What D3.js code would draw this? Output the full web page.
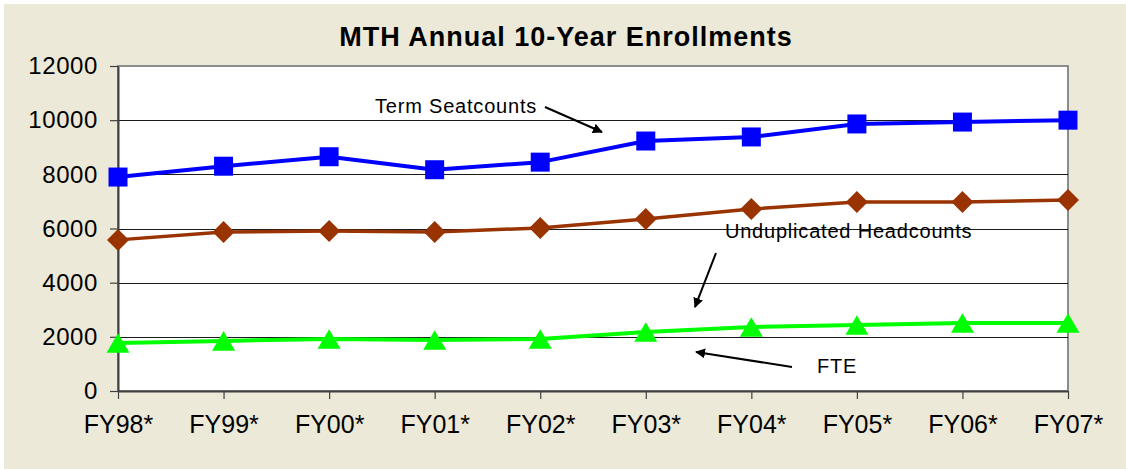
<!DOCTYPE html>
<html>
<head>
<meta charset="utf-8">
<script src="https://cdn.jsdelivr.net/npm/d3@7"></script>
<style>
  html, body { margin: 0; padding: 0; background: #fff; }
  svg { display: block; font-family: "Liberation Sans", Arial, sans-serif; }
</style>
</head>
<body>
<div id="chart"></div>
<script>
// data
const years = ['FY98*', 'FY99*', 'FY00*', 'FY01*', 'FY02*', 'FY03*', 'FY04*', 'FY05*', 'FY06*', 'FY07*'];
const seatcounts = [7900, 8300, 8650, 8170, 8450, 9230, 9380, 9860, 9930, 10000];
const headcounts = [5580, 5870, 5910, 5870, 6020, 6350, 6720, 6980, 6980, 7050];
const fte = [1770, 1850, 1920, 1880, 1920, 2180, 2360, 2440, 2510, 2510];
const yTicks = [0, 2000, 4000, 6000, 8000, 10000, 12000];

// annotations, placed in data units (category index, value)
const notes = [
    {text: 'Term Seatcounts', x: 2.435, y: 10265, from: [4.045, 10486], to: [4.585, 9563]},
    {text: 'Unduplicated Headcounts', x: 5.75, y: 5649, from: [5.665, 5095], to: [5.466, 3101]},
    {text: 'FTE', x: 6.622, y: 665, from: [6.385, 886], to: [5.476, 1440]}
];

const W = 1126, H = 469;
const margin = {top: 66, right: 58, bottom: 78, left: 118};
const width = W - margin.left - margin.right;
const height = H - margin.top - margin.bottom;

const svg = d3.select('#chart').append('svg')
    .attr('width', W)
    .attr('height', H);

svg.append('rect')
    .attr('x', 4).attr('y', 4)
    .attr('width', W - 4).attr('height', H - 4)
    .attr('fill', '#ECE9D8');

svg.append('defs').append('marker')
    .attr('id', 'arrow')
    .attr('viewBox', '0 0 10 10')
    .attr('refX', 9).attr('refY', 5)
    .attr('markerWidth', 5).attr('markerHeight', 5)
    .attr('markerUnits', 'strokeWidth')
    .attr('orient', 'auto')
    .append('path')
    .attr('d', 'M0,0L10,5L0,10z')
    .attr('fill', '#000');

const g = svg.append('g')
    .attr('transform', 'translate(' + margin.left + ',' + margin.top + ')');

const xScale = d3.scalePoint()
    .domain(years)
    .range([0, width])
    .padding(0);

const xIdx = d3.scaleLinear()
    .domain([0, years.length - 1])
    .range([0, width]);

const yScale = d3.scaleLinear()
    .domain([0, 12000])
    .range([height, 0]);

// plot area
g.append('rect')
    .attr('width', width)
    .attr('height', height)
    .attr('fill', '#fff')
    .attr('stroke', '#8c8c8c')
    .attr('stroke-width', 2);

// gridlines
g.append('g')
    .selectAll('line')
    .data(yTicks.filter(d => d > 0 && d < 12000))
    .join('line')
    .attr('x1', 0).attr('x2', width)
    .attr('y1', d => Math.round(yScale(d)) + 0.5)
    .attr('y2', d => Math.round(yScale(d)) + 0.5)
    .attr('stroke', '#1a1a1a')
    .attr('stroke-width', 1);

// axes
const yAxis = d3.axisLeft(yScale)
    .tickValues(yTicks)
    .tickFormat(d3.format('d'))
    .tickSize(8)
    .tickPadding(12)
    .tickSizeOuter(0);

const xAxis = d3.axisBottom(xScale)
    .tickSize(8)
    .tickPadding(16)
    .tickSizeOuter(0);

const yAxisGroup = g.append('g').attr('class', 'axis y-axis').call(yAxis);
const xAxisGroup = g.append('g').attr('class', 'axis x-axis')
    .attr('transform', 'translate(0,' + height + ')')
    .call(xAxis);

[yAxisGroup, xAxisGroup].forEach(ax => {
    ax.select('.domain').attr('stroke', '#404040').attr('stroke-width', 2);
    ax.selectAll('.tick line').attr('stroke', '#404040').attr('stroke-width', 1.2);
    ax.selectAll('.tick text')
        .attr('fill', '#000')
        .style('font-family', '"Liberation Sans", Arial, sans-serif');
});
yAxisGroup.selectAll('.tick text').style('font-size', '24px').attr('letter-spacing', '0.6px');
xAxisGroup.selectAll('.tick text').style('font-size', '25px');

// custom marker shapes
const squareType = {draw(ctx, s) { ctx.rect(-s, -s, 2 * s, 2 * s); }};
const diamondType = {draw(ctx, s) { ctx.moveTo(0, -s); ctx.lineTo(s, 0); ctx.lineTo(0, s); ctx.lineTo(-s, 0); ctx.closePath(); }};
const triangleType = {draw(ctx, s) { ctx.moveTo(0, -s * 0.85); ctx.lineTo(s, s * 0.85); ctx.lineTo(-s, s * 0.85); ctx.closePath(); }};

const series = [
    {values: seatcounts, color: '#0000FF', width: 4, shape: squareType, size: 9.5},
    {values: headcounts, color: '#993300', width: 3.5, shape: diamondType, size: 11},
    {values: fte, color: '#00FF00', width: 4, shape: triangleType, size: 11.5}
];

const line = d3.line()
    .x((d, i) => xScale(years[i]))
    .y(d => yScale(d));

series.forEach(s => {
    g.append('path')
        .datum(s.values)
        .attr('d', line)
        .attr('fill', 'none')
        .attr('stroke', s.color)
        .attr('stroke-width', s.width)
        .attr('stroke-linejoin', 'round');

    g.append('g')
        .selectAll('path')
        .data(s.values)
        .join('path')
        .attr('transform', (d, i) => 'translate(' + xScale(years[i]) + ',' + yScale(d) + ')')
        .attr('d', d3.symbol().type(s.shape).size(s.size))
        .attr('fill', s.color);
});

// annotations
notes.forEach(n => {
    g.append('text')
        .attr('x', xIdx(n.x))
        .attr('y', yScale(n.y))
        .attr('font-size', '20px')
        .attr('letter-spacing', '0.8px')
        .attr('fill', '#000')
        .text(n.text);
    g.append('line')
        .attr('x1', xIdx(n.from[0])).attr('y1', yScale(n.from[1]))
        .attr('x2', xIdx(n.to[0])).attr('y2', yScale(n.to[1]))
        .attr('stroke', '#000')
        .attr('stroke-width', 2)
        .attr('marker-end', 'url(#arrow)');
});

// title
svg.append('text')
    .attr('x', 566)
    .attr('y', 46)
    .attr('text-anchor', 'middle')
    .attr('font-size', '27px')
    .attr('font-weight', 'bold')
    .attr('letter-spacing', '1px')
    .attr('fill', '#000')
    .text('MTH Annual 10-Year Enrollments');
</script>
</body>
</html>
